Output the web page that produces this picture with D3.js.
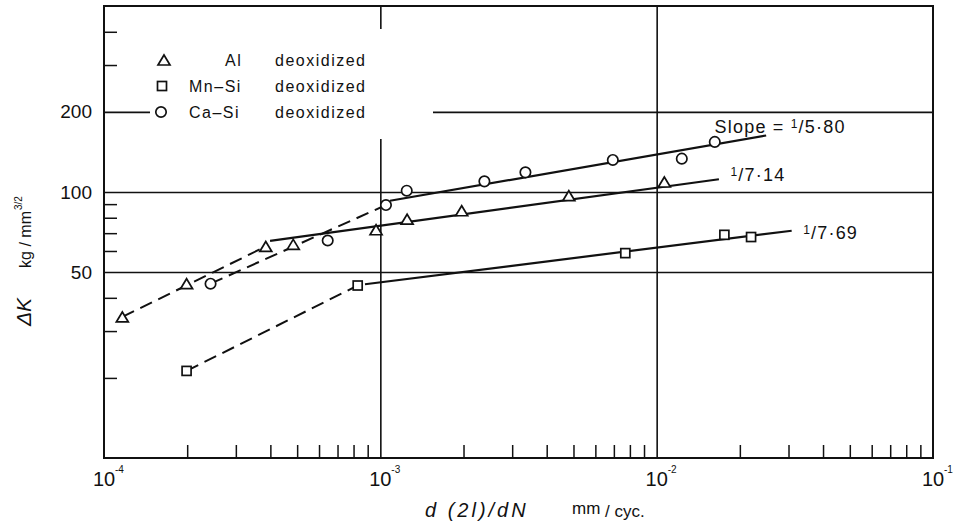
<!DOCTYPE html>
<html>
<head>
<meta charset="utf-8">
<script src="https://cdn.jsdelivr.net/npm/d3@7"></script>
<style>
  html, body { margin: 0; padding: 0; background: #fff; }
  svg { display: block; font-family: "Liberation Sans", Arial, sans-serif; }
</style>
</head>
<body>
<svg id="chart" width="955" height="526"></svg>
<script>
// Crack growth rate d(2l)/dN vs stress intensity range ΔK (log-log)
const xDomain = [1e-4, 1e-1];
const yDomain = [10, 500];

// Al deoxidized (triangles)
const alRate = [1.165e-4, 1.99e-4, 3.85e-4, 4.84e-4, 9.65e-4, 1.25e-3, 1.97e-3, 4.81e-3, 1.066e-2];
const alK    = [33.9, 45.2, 62.4, 63.5, 72.1, 79.0, 85.0, 96.8, 109.0];
// Mn-Si deoxidized (squares)
const mnRate = [1.99e-4, 8.28e-4, 7.70e-3, 1.758e-2, 2.196e-2];
const mnK    = [21.25, 44.5, 58.9, 69.0, 67.7];
// Ca-Si deoxidized (circles)
const caRate = [2.43e-4, 6.45e-4, 1.048e-3, 1.246e-3, 2.38e-3, 3.35e-3, 6.94e-3, 1.233e-2, 1.623e-2];
const caK    = [45.2, 65.7, 89.3, 101.1, 109.6, 118.5, 131.9, 133.4, 154.2];

// Fitted lines: [rate, ΔK] end points
const alFit  = [[3.99e-4, 65.5], [1.68e-2, 111.6]];
const caFit  = [[1.084e-3, 92.7], [2.49e-2, 163]];
const mnFit  = [[8.80e-4, 45.0], [3.08e-2, 71.5]];
const alLow  = [[1.165e-4, 33.9], [3.85e-4, 62.4]];
const caLow  = [[2.43e-4, 45.2], [1.048e-3, 89.3]];
const mnLow  = [[1.99e-4, 21.25], [8.28e-4, 44.5]];

// Axis ticks
const yMajor = [50, 100, 200];
const yMinor = [20, 30, 40, 60, 70, 80, 90, 300, 400];
const xMajor = [1e-3, 1e-2];
const xLabelExp = [-4, -3, -2, -1];
const xMinorMult = [2, 3, 4, 5, 6, 7, 8, 9];
const xMinorDecades = [1e-4, 1e-3, 1e-2];

// Slope annotations (anchor at [rate, ΔK] of the text baseline start)
const slopeLabels = [
  {pre: "Slope = ", num: "1", den: "/5·80", at: [1.62e-2, 167]},
  {pre: "", num: "1", den: "/7·14", at: [1.85e-2, 110]},
  {pre: "", num: "1", den: "/7·69", at: [3.39e-2, 66.5]}
];

const svg = d3.select("#chart");
const mLeft = 104, mRight = 933, mTop = 6, mBottom = 458;
const x = d3.scaleLog().domain(xDomain).range([mLeft, mRight]);
const y = d3.scaleLog().domain(yDomain).range([mBottom, mTop]);
const ink = "#111";

// Gridlines at major ticks
svg.append("g")
  .attr("transform", `translate(${mLeft},0)`)
  .call(d3.axisLeft(y).tickValues(yMajor).tickSize(-(mRight - mLeft)).tickFormat(""))
  .call(g => g.select(".domain").remove())
  .call(g => g.selectAll("line").attr("stroke", ink).attr("stroke-width", 1.6));
svg.append("g")
  .attr("transform", `translate(0,${mBottom})`)
  .call(d3.axisBottom(x).tickValues(xMajor).tickSize(-(mBottom - mTop)).tickFormat(""))
  .call(g => g.select(".domain").remove())
  .call(g => g.selectAll("line").attr("stroke", ink).attr("stroke-width", 1.6));

// Minor ticks, inward
const xMinor = [];
xMinorDecades.forEach(d => xMinorMult.forEach(m => xMinor.push(d * m)));
svg.append("g")
  .attr("transform", `translate(0,${mBottom})`)
  .call(d3.axisBottom(x).tickValues(xMinor).tickSize(-13).tickFormat(""))
  .call(g => g.select(".domain").remove())
  .call(g => g.selectAll("line").attr("stroke", ink).attr("stroke-width", 1.5));
svg.append("g")
  .attr("transform", `translate(${mLeft},0)`)
  .call(d3.axisLeft(y).tickValues(yMinor).tickSize(-13).tickFormat(""))
  .call(g => g.select(".domain").remove())
  .call(g => g.selectAll("line").attr("stroke", ink).attr("stroke-width", 1.5));

// Y tick labels
svg.append("g")
  .attr("transform", `translate(${mLeft},0)`)
  .call(d3.axisLeft(y).tickValues(yMajor).tickSize(0).tickPadding(12).tickFormat(d3.format("d")))
  .call(g => g.select(".domain").remove())
  .call(g => g.selectAll("text").attr("font-size", 19).attr("fill", ink)
    .attr("font-family", "'Liberation Sans', Arial, sans-serif"));

// X tick labels 10^n
const xl = svg.append("g");
xLabelExp.forEach(e => {
  const cx = x(Math.pow(10, e));
  xl.append("text").attr("x", cx).attr("y", 486).attr("text-anchor", "middle")
    .attr("font-size", 20).attr("fill", ink).text("10");
  xl.append("text").attr("x", cx + 11).attr("y", 473).attr("font-size", 10)
    .attr("fill", ink).text("-" + Math.abs(e));
});

// Legend box
svg.append("rect").attr("x", 150).attr("y", 29).attr("width", 283).attr("height", 110).attr("fill", "#fff");

// Frame
svg.append("rect").attr("x", mLeft).attr("y", mTop).attr("width", mRight - mLeft).attr("height", mBottom - mTop)
  .attr("fill", "none").attr("stroke", ink).attr("stroke-width", 2);

// Fit lines
const line = d3.line().x(d => x(d[0])).y(d => y(d[1]));
[alFit, caFit, mnFit].forEach(p => svg.append("path").attr("d", line(p))
  .attr("fill", "none").attr("stroke", ink).attr("stroke-width", 2.2));
[alLow, caLow, mnLow].forEach(p => svg.append("path").attr("d", line(p))
  .attr("fill", "none").attr("stroke", ink).attr("stroke-width", 2).attr("stroke-dasharray", "13,7"));

// Markers
function tri(g, cx, cy) {
  const w = 12, h = 10;
  g.append("path").attr("d", `M${cx},${cy - h / 2}L${cx + w / 2},${cy + h / 2}L${cx - w / 2},${cy + h / 2}Z`)
    .attr("fill", "#fff").attr("stroke", ink).attr("stroke-width", 1.7);
}
function sq(g, cx, cy) {
  const s = 9;
  g.append("rect").attr("x", cx - s / 2).attr("y", cy - s / 2).attr("width", s).attr("height", s)
    .attr("fill", "#fff").attr("stroke", ink).attr("stroke-width", 1.7);
}
function circ(g, cx, cy) {
  g.append("circle").attr("cx", cx).attr("cy", cy).attr("r", 5.2)
    .attr("fill", "#fff").attr("stroke", ink).attr("stroke-width", 1.7);
}
const marks = svg.append("g");
alRate.forEach((r, i) => tri(marks, x(r), y(alK[i])));
mnRate.forEach((r, i) => sq(marks, x(r), y(mnK[i])));
caRate.forEach((r, i) => circ(marks, x(r), y(caK[i])));

// Slope labels
slopeLabels.forEach(s => {
  const t = svg.append("text").attr("x", x(s.at[0])).attr("y", y(s.at[1]))
    .attr("font-size", 18).attr("fill", ink).attr("letter-spacing", 1.2);
  if (s.pre) t.append("tspan").text(s.pre);
  t.append("tspan").attr("font-size", 12).attr("dy", -5).text(s.num);
  t.append("tspan").attr("dy", 5).text(s.den);
});

// Legend
const leg = svg.append("g");
const legendNames = ["Al", "Mn\u2013Si", "Ca\u2013Si"];
const legendX = [225, 189, 189];
const legendY = [60, 86, 112];
tri(leg, 164, legendY[0]);
sq(leg, 162, legendY[1]);
circ(leg, 161, legendY[2]);
legendNames.forEach((n, i) => {
  leg.append("text").attr("x", legendX[i]).attr("y", legendY[i] + 6).attr("font-size", 16)
    .attr("letter-spacing", 1.5).attr("fill", ink).text(n);
  leg.append("text").attr("x", 275).attr("y", legendY[i] + 6).attr("font-size", 16)
    .attr("letter-spacing", 1.5).attr("fill", ink).text("deoxidized");
});

// Y axis title
const yt = svg.append("text").attr("transform", "translate(31,326) rotate(-90)")
  .attr("fill", ink).attr("font-size", 16);
yt.append("tspan").attr("font-style", "italic").attr("font-size", 21).text("\u0394K");
yt.append("tspan").attr("dx", 30).text("kg / mm");
yt.append("tspan").attr("font-size", 10).attr("dy", -9).attr("dx", 1).text("3/2");

// X axis title
const xt = svg.append("text").attr("x", 425).attr("y", 517).attr("fill", ink).attr("font-size", 20);
xt.append("tspan").attr("font-style", "italic").attr("letter-spacing", 3).text("d (2l)/dN");
xt.append("tspan").attr("x", 572).attr("font-size", 17).attr("dy", -3).text("mm");
xt.append("tspan").attr("font-size", 17).attr("dy", 3).text(" / cyc.");
</script>
</body>
</html>
